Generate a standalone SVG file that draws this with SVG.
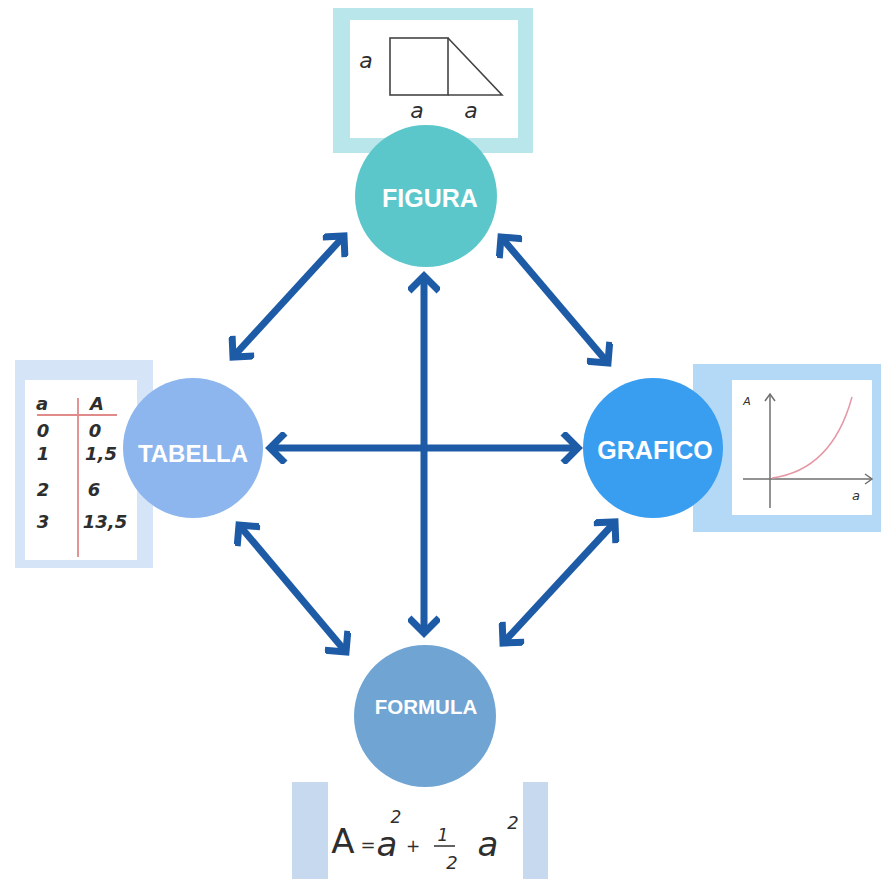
<svg xmlns="http://www.w3.org/2000/svg" width="881" height="879" viewBox="0 0 881 879">
  <defs>
    <style>
      .label { font-family: "Liberation Sans", Arial, sans-serif; font-weight: bold; fill: #ffffff; text-anchor: middle; }
      .hand { font-family: "DejaVu Sans", "Liberation Sans", sans-serif; font-style: italic; fill: #2e2e2e; text-anchor: middle; }
      .link { fill: none; stroke: #1e5ba6; stroke-width: 7; marker-start: url(#chev); marker-end: url(#chev); }
      .axis { fill: none; stroke: #6f6f6f; stroke-width: 1.5; }
    </style>
    <marker id="chev" markerUnits="userSpaceOnUse" viewBox="-26 -16 32 32" markerWidth="32" markerHeight="32" refX="0" refY="0" orient="auto-start-reverse">
      <path d="M-15,-15 L0,0 L-15,15" fill="none" stroke="#1e5ba6" stroke-width="7" stroke-linejoin="miter"/>
    </marker>
    <marker id="axhead" markerUnits="userSpaceOnUse" viewBox="-10 -6 12 12" markerWidth="12" markerHeight="12" refX="0" refY="0" orient="auto">
      <path d="M-7,-5 L0,0 L-7,5" fill="none" stroke="#6f6f6f" stroke-width="1.5"/>
    </marker>
  </defs>

  <rect width="881" height="879" fill="#ffffff"/>

  <!-- figure panel: square plus right triangle -->
  <g id="panel-figura">
    <rect x="333" y="8" width="200" height="145" fill="#b8e6ea"/>
    <rect x="350" y="20" width="168" height="118" fill="#ffffff"/>
    <rect x="390" y="38" width="58" height="57" fill="none" stroke="#444" stroke-width="1.6"/>
    <path d="M448,38 L502,95 L448,95" fill="none" stroke="#444" stroke-width="1.6"/>
    <text class="hand" x="366" y="68" font-size="22">a</text>
    <text class="hand" x="417" y="118" font-size="22">a</text>
    <text class="hand" x="471" y="118" font-size="22">a</text>
  </g>

  <!-- table panel -->
  <g id="panel-tabella">
    <rect x="15" y="360" width="138" height="208" fill="#d6e4f7"/>
    <rect x="25" y="380" width="112" height="180" fill="#ffffff"/>
    <line x1="37" y1="415" x2="117" y2="415" stroke="#e08a8a" stroke-width="1.8"/>
    <line x1="78" y1="398" x2="78" y2="557" stroke="#e08a8a" stroke-width="1.8"/>
    <g class="hand" font-size="18" font-weight="bold">
      <text x="42" y="410">a</text>
      <text x="97" y="410">A</text>
      <text x="43" y="437">0</text>
      <text x="95" y="437">0</text>
      <text x="43" y="460">1</text>
      <text x="101" y="460">1,5</text>
      <text x="43" y="496">2</text>
      <text x="94" y="496">6</text>
      <text x="43" y="528">3</text>
      <text x="105" y="528">13,5</text>
    </g>
  </g>

  <!-- graph panel -->
  <g id="panel-grafico">
    <rect x="693" y="364" width="188" height="168" fill="#b4d9f7"/>
    <rect x="732" y="380" width="140" height="135" fill="#ffffff"/>
    <line class="axis" x1="770" y1="508" x2="770" y2="394" marker-end="url(#axhead)"/>
    <line class="axis" x1="743" y1="479" x2="872" y2="479" marker-end="url(#axhead)"/>
    <path d="M772,478 Q832,470 852,397" fill="none" stroke="#e597a6" stroke-width="1.5"/>
    <text class="hand" x="747" y="405" font-size="11" fill="#777">A</text>
    <text class="hand" x="856" y="500" font-size="13">a</text>
  </g>

  <!-- formula panel -->
  <g id="panel-formula">
    <rect x="292" y="782" width="36" height="97" fill="#c6d9ef"/>
    <rect x="523" y="782" width="25" height="97" fill="#c6d9ef"/>
    <g class="hand">
      <text x="343" y="853" font-size="34" font-style="normal">A</text>
      <text x="368" y="851" font-size="18">=</text>
      <text x="387" y="856" font-size="34">a</text>
      <text x="396" y="823" font-size="17">2</text>
      <text x="413" y="852" font-size="17">+</text>
      <text x="443" y="841" font-size="17">1</text>
      <line x1="434" y1="846" x2="455" y2="846" stroke="#2e2e2e" stroke-width="1.5"/>
      <text x="452" y="869" font-size="18">2</text>
      <text x="488" y="856" font-size="34">a</text>
      <text x="513" y="829" font-size="18">2</text>
    </g>
  </g>

  <!-- two-way connectors -->
  <g id="connectors">
    <line class="link" x1="344" y1="236" x2="233" y2="357"/>
    <line class="link" x1="501" y1="237" x2="608" y2="363"/>
    <line class="link" x1="424" y1="276" x2="424" y2="633"/>
    <line class="link" x1="270" y1="448" x2="578" y2="448"/>
    <line class="link" x1="239" y1="525" x2="346" y2="652"/>
    <line class="link" x1="615" y1="522" x2="503" y2="643"/>
  </g>

  <g id="node-figura">
    <circle cx="426" cy="196" r="71" fill="#5bc7cb"/>
    <text class="label" x="430" y="207" font-size="25">FIGURA</text>
  </g>
  <g id="node-tabella">
    <circle cx="193" cy="448" r="70" fill="#8db6ee"/>
    <text class="label" x="193" y="462" font-size="24">TABELLA</text>
  </g>
  <g id="node-grafico">
    <circle cx="653" cy="448" r="70" fill="#3a9ef0"/>
    <text class="label" x="655" y="459" font-size="25">GRAFICO</text>
  </g>
  <g id="node-formula">
    <circle cx="425" cy="716" r="71" fill="#70a4d3"/>
    <text class="label" x="426" y="714" font-size="20.5">FORMULA</text>
  </g>
</svg>
